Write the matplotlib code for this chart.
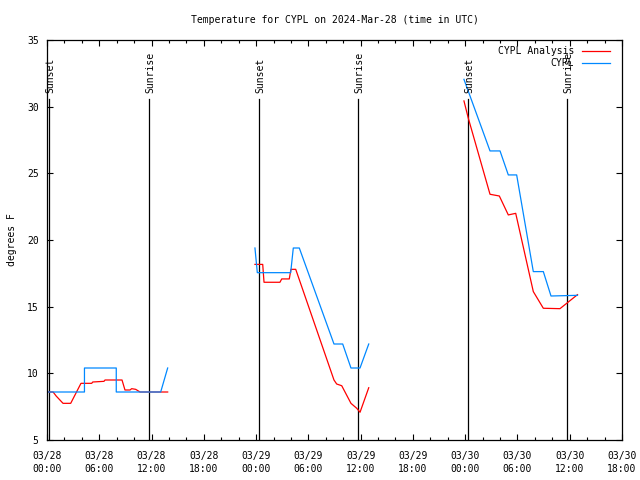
import numpy as np
import matplotlib
matplotlib.use("Agg")
import matplotlib.pyplot as plt
from matplotlib.ticker import MultipleLocator, FixedLocator

nan = np.nan
# hours since 2024-03-28 00:00 UTC
analysis_hours = [0, 0.7, 1.05, 1.84, 2.72, 3.9, 5.13, 5.25, 6.54, 6.66, 8.61, 8.95, 9.53, 9.72, 10.18, 10.68, 13.85,
                  nan,
                  23.87, 24.76, 24.91, 26.74, 26.94, 27.81, 28.0, 28.55, 32.94, 33.25, 33.83, 34.89, 35.55, 35.93, 36.93,
                  nan,
                  47.86, 48.36, 50.85, 51.92, 52.95, 53.8, 55.82, 56.97, 58.88, 60.89]
analysis_temp = [8.6, 8.6, 8.3, 7.75, 7.75, 9.25, 9.25, 9.35, 9.4, 9.5, 9.5, 8.75, 8.75, 8.85, 8.8, 8.6, 8.6,
                 nan,
                 18.17, 18.17, 16.83, 16.83, 17.08, 17.08, 17.8, 17.8, 9.5, 9.2, 9.07, 7.75, 7.38, 7.08, 8.92,
                 nan,
                 30.43, 29.13, 23.43, 23.3, 21.88, 22.0, 16.13, 14.88, 14.85, 15.9]

obs_hours = [0, 4.3, 4.3, 7.95, 7.95, 13.05, 13.85,
             nan,
             23.87, 24.14, 27.97, 28.27, 28.96, 32.94, 33.94, 34.89, 35.93, 36.93,
             nan,
             47.86, 50.85, 52.0, 52.95, 53.91, 55.82, 56.97, 57.85, 60.89]
obs_temp = [8.6, 8.6, 10.4, 10.4, 8.6, 8.6, 10.4,
            nan,
            19.4, 17.55, 17.55, 19.4, 19.4, 12.2, 12.2, 10.4, 10.4, 12.2,
            nan,
            32.05, 26.68, 26.68, 24.88, 24.88, 17.63, 17.63, 15.8, 15.85]

sun_hours = [0.25, 11.75, 24.3, 35.7, 48.35, 59.65]
sun_labels = ["Sunset", "Sunrise", "Sunset", "Sunrise", "Sunset", "Sunrise"]
sun_line_top = 30.6
sun_label_y = 31.0

xtick_hours = [0, 6, 12, 18, 24, 30, 36, 42, 48, 54, 60, 66]
xtick_labels = ["03/28\n00:00", "03/28\n06:00", "03/28\n12:00", "03/28\n18:00",
                "03/29\n00:00", "03/29\n06:00", "03/29\n12:00", "03/29\n18:00",
                "03/30\n00:00", "03/30\n06:00", "03/30\n12:00", "03/30\n18:00"]
yticks = [5, 10, 15, 20, 25, 30, 35]

plt.rcParams['font.family'] = ['DejaVu Sans Mono']
plt.rcParams['font.size'] = 7

fig = plt.figure(figsize=(6.4, 4.8), dpi=100)
ax = fig.add_axes([47/640, 40/480, 575/640, 400/480])

for h, lab in zip(sun_hours, sun_labels):
    ax.plot([h, h], [5, sun_line_top], color='black', lw=0.9)
    ax.text(h + 0.15, sun_label_y, lab, rotation=90, ha='center', va='bottom', fontsize=7)

ax.plot(analysis_hours, analysis_temp, color='#ff0000', lw=0.9, label='CYPL Analysis')
ax.plot(obs_hours, obs_temp, color='#0088ff', lw=0.9, label='CYPL')

ax.set_xlim(0, 66)
ax.set_ylim(5, 35)
ax.xaxis.set_major_locator(FixedLocator(xtick_hours))
ax.set_xticklabels(xtick_labels, linespacing=1.3)
ax.xaxis.set_minor_locator(MultipleLocator(2))
ax.set_yticks(yticks)
ax.tick_params(which='both', direction='in', top=True, right=True, width=0.8)
ax.tick_params(which='major', length=4)
ax.tick_params(axis='x', which='major', pad=8)
ax.tick_params(axis='y', which='major', pad=6)
ax.tick_params(which='minor', length=2.5)
for s in ax.spines.values():
    s.set_linewidth(0.9)

ax.set_ylabel("degrees F", labelpad=7)
ax.set_title("Temperature for CYPL on 2024-Mar-28 (time in UTC)", fontsize=7, pad=12)

ax.legend(loc='upper right', bbox_to_anchor=(0.9826, 0.99), frameon=False, markerfirst=False,
          alignment='right', handlelength=2.9, handletextpad=0.8, labelspacing=0.22,
          borderaxespad=0.0, borderpad=0.2, fontsize=7)

fig.savefig("out.png", dpi=100)
